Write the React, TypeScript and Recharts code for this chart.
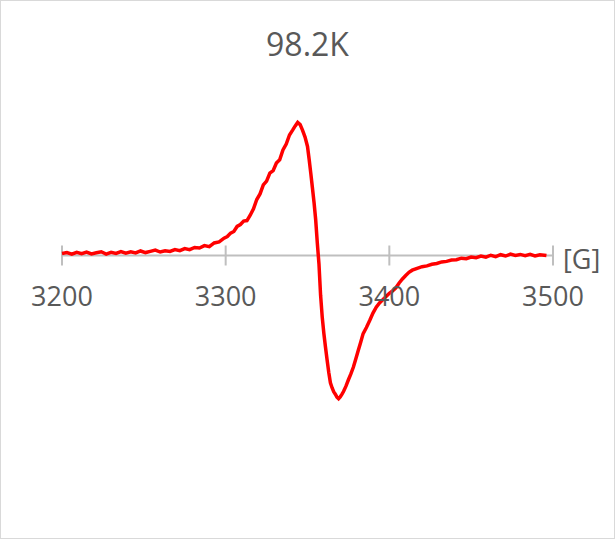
import React from "react";
import { LineChart, Line, XAxis, YAxis, ReferenceLine, Label } from "recharts";

const chartTitle = "98.2K";
const axisUnit = "[G]";
const xTicks = [3200, 3300, 3400, 3500];

const fieldG = [
  3200, 3203, 3206, 3209, 3212, 3215, 3218, 3221, 3224, 3227,
  3230, 3233, 3236, 3239, 3242, 3245, 3248, 3251, 3254, 3257,
  3260, 3263, 3266, 3269, 3272, 3275, 3278, 3281, 3284, 3287,
  3290, 3293, 3296, 3299,
  3301, 3303, 3305, 3307, 3309, 3311, 3313, 3315, 3317, 3319,
  3321, 3323, 3325, 3327, 3329, 3331, 3333, 3335, 3337, 3339,
  3341, 3342.5, 3344, 3345.5, 3347, 3348.5, 3350, 3351, 3352, 3353,
  3354, 3355, 3356, 3357, 3358, 3359, 3360, 3361, 3362, 3363,
  3364, 3365, 3366, 3367, 3368, 3369, 3370, 3371, 3372, 3373.5,
  3375, 3376.5, 3378, 3379.5, 3381, 3382.5, 3384, 3386, 3388, 3390,
  3392, 3394, 3396, 3398, 3400, 3402, 3404, 3406, 3408, 3410,
  3412, 3414, 3417, 3420, 3423, 3426, 3429, 3432, 3435, 3438,
  3441, 3444, 3447, 3450, 3453, 3456, 3459, 3462, 3465, 3468,
  3471, 3474, 3477, 3480, 3483, 3486, 3489, 3492, 3496,
];

const signal = [
  0.015, 0.022, 0.010, 0.024, 0.014, 0.026, 0.012, 0.020, 0.028, 0.011,
  0.024, 0.016, 0.030, 0.018, 0.027, 0.019, 0.034, 0.022, 0.031, 0.040,
  0.026, 0.036, 0.030, 0.044, 0.036, 0.052, 0.044, 0.060, 0.056, 0.074,
  0.066, 0.094, 0.102, 0.130,
  0.142, 0.168, 0.180, 0.218, 0.232, 0.258, 0.262, 0.302, 0.350, 0.420,
  0.462, 0.530, 0.558, 0.618, 0.636, 0.694, 0.718, 0.792, 0.836, 0.904,
  0.942, 0.972, 0.998, 0.982, 0.938, 0.888, 0.818, 0.722, 0.618, 0.508,
  0.398, 0.268, 0.092, -0.062, -0.298, -0.462, -0.585, -0.688, -0.786, -0.878,
  -0.955, -0.992, -1.022, -1.040, -1.062, -1.074, -1.060, -1.042, -1.020, -0.980,
  -0.932, -0.888, -0.838, -0.776, -0.712, -0.650, -0.586, -0.540, -0.488, -0.432,
  -0.388, -0.356, -0.332, -0.308, -0.284, -0.266, -0.242, -0.206, -0.176, -0.150,
  -0.126, -0.110, -0.096, -0.084, -0.078, -0.066, -0.060, -0.048, -0.044, -0.034,
  -0.032, -0.020, -0.024, -0.012, -0.016, -0.004, -0.012, 0.002, -0.008, 0.006,
  -0.004, 0.010, 0.000, 0.008, -0.002, 0.008, -0.004, 0.006, 0.000,
];

const data = fieldG.map((g, i) => ({ g, v: signal[i] }));

const W = 615;
const H = 539;
const MT = 55.5;
const MB = 83.5;
const ML = 62;
const MR = 62;
const FONT = "'Open Sans', 'Liberation Sans', sans-serif";
const TEXT = "#595959";
const AXIS = "#bfbfbf";

export default function App() {
  return (
    <div style={{ position: "absolute", left: 0, top: 0, width: W, height: H, background: "#fff" }}>
      <div
        style={{
          position: "absolute",
          left: 0,
          top: 0,
          width: W,
          height: H,
          boxSizing: "border-box",
          border: "1px solid #d9d9d9",
          pointerEvents: "none",
          zIndex: 2,
        }}
      />
      <svg width={W} height={H} style={{ position: "absolute", left: 0, top: 0, zIndex: 1, pointerEvents: "none" }}>
        <text x={307.5} y={56} textAnchor="middle" fill={TEXT} fontSize={32} fontFamily={FONT}>
          {chartTitle}
        </text>
      </svg>
      <div style={{ position: "absolute", left: 0, top: 0 }}>
        <LineChart width={W} height={H} data={data} margin={{ top: MT, right: MR, bottom: MB, left: ML }}>
          <XAxis dataKey="g" type="number" domain={[3200, 3500]} ticks={xTicks} hide height={0} />
          <YAxis type="number" domain={[-1.5, 1.5]} hide width={0} />
          <ReferenceLine y={0} stroke={AXIS} strokeWidth={2}>
            <Label value={axisUnit} position="right" offset={10} fill={TEXT} fontSize={27} fontFamily={FONT} dy={4} />
          </ReferenceLine>
          {xTicks.map((t) => (
            <ReferenceLine
              key={t}
              segment={[
                { x: t, y: -0.075 },
                { x: t, y: 0.075 },
              ]}
              stroke={AXIS}
              strokeWidth={2}
            >
              <Label value={String(t)} position="bottom" offset={21} fill={TEXT} fontSize={27} fontFamily={FONT} />
            </ReferenceLine>
          ))}
          <Line
            dataKey="v"
            type="linear"
            stroke="#ff0000"
            strokeWidth={3.5}
            dot={false}
            isAnimationActive={false}
          />
        </LineChart>
      </div>
    </div>
  );
}
